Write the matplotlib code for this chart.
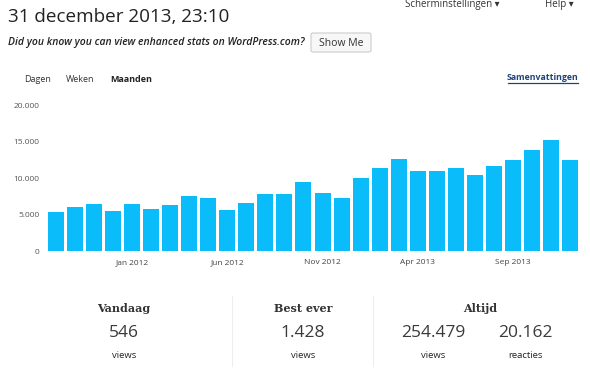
import numpy as np
import matplotlib.pyplot as plt
from matplotlib.lines import Line2D
from matplotlib.patches import FancyBboxPatch

# Monthly views, Sep 2011 .. Dec 2013
months = ['Sep 2011', 'Oct 2011', 'Nov 2011', 'Dec 2011',
          'Jan 2012', 'Feb 2012', 'Mar 2012', 'Apr 2012', 'May 2012', 'Jun 2012',
          'Jul 2012', 'Aug 2012', 'Sep 2012', 'Oct 2012', 'Nov 2012', 'Dec 2012',
          'Jan 2013', 'Feb 2013', 'Mar 2013', 'Apr 2013', 'May 2013', 'Jun 2013',
          'Jul 2013', 'Aug 2013', 'Sep 2013', 'Oct 2013', 'Nov 2013', 'Dec 2013']
views = [5400, 6000, 6400, 5500, 6400, 5800, 6300, 7500, 7300, 5700,
         6600, 7900, 7900, 9500, 8000, 7300, 10000, 11400, 12600, 11000,
         11000, 11400, 10500, 11700, 12500, 13900, 15200, 12500]
tick_labels = ['Jan 2012', 'Jun 2012', 'Nov 2012', 'Apr 2013', 'Sep 2013']
y_ticks = [0, 5000, 10000, 15000, 20000]
y_tick_labels = ['0', '5.000', '10.000', '15.000', '20.000']

# Summary numbers
summary_heads = ['Vandaag', 'Best ever', 'Altijd']
summary_vals = ['546', '1.428', '254.479', '20.162']
summary_units = ['views', 'views', 'views', 'reacties']

W, H = 590, 373
fig = plt.figure(figsize=(W/100.0, H/100.0), dpi=100)
fig.patch.set_facecolor('white')

def fx(px):
    return px/float(W)

def fy(py):
    return 1 - py/float(H)

sans = ['Open Sans', 'DejaVu Sans']

# Header texts
fig.text(fx(8), fy(17), '31 december 2013, 23:10', fontsize=13.6, family=sans,
         color='#222222', va='center', ha='left')
fig.text(fx(8), fy(42), 'Did you know you can view enhanced stats on WordPress.com?',
         fontsize=7.45, family=sans, style='italic', weight='semibold',
         color='#222222', va='center', ha='left')
btn = FancyBboxPatch((fx(311), fy(52)), fx(60), 19/float(H),
                     boxstyle='round,pad=0,rounding_size=0.004',
                     transform=fig.transFigure, facecolor='#f7f7f7',
                     edgecolor='#cccccc', linewidth=0.8)
fig.patches.append(btn)
fig.text(fx(341), fy(43), 'Show Me', fontsize=7.5, family=sans, color='#333333',
         va='center', ha='center')
fig.text(fx(405), fy(5), 'Scherminstellingen \u25be', fontsize=7, family=sans,
         color='#333333', va='center', ha='left')
fig.text(fx(545), fy(5), 'Help \u25be', fontsize=7, family=sans,
         color='#333333', va='center', ha='left')

# Tabs
fig.text(fx(24), fy(79), 'Dagen', fontsize=6.5, family=sans, color='#333333', va='center')
fig.text(fx(66), fy(79), 'Weken', fontsize=6.5, family=sans, color='#333333', va='center')
fig.text(fx(110), fy(79), 'Maanden', fontsize=6.5, family=sans, weight='bold',
         color='#222222', va='center')
fig.text(fx(578), fy(78), 'Samenvattingen', fontsize=6.3, family=sans, weight='bold',
         color='#21437a', va='center', ha='right')
fig.lines.append(Line2D([fx(508), fx(578)], [fy(83), fy(83)],
                        transform=fig.transFigure, color='#21437a', linewidth=0.9))

# Bar chart
ax = fig.add_axes([fx(48), fy(251), fx(578) - fx(48), (251 - 105.5)/float(H)])
x = np.arange(len(views))
ax.bar(x, views, width=0.84, color='#0bbcfa', edgecolor='none')
ax.set_xlim(-0.42, len(views) - 1 + 0.42)
ax.set_ylim(0, 20000)
for s in ax.spines.values():
    s.set_visible(False)
ax.set_yticks(y_ticks)
ax.set_yticklabels(y_tick_labels, fontsize=6, family=sans, color='#555555')
ax.set_xticks([months.index(m) for m in tick_labels])
ax.set_xticklabels(tick_labels, fontsize=6, family=sans, color='#444444')
ax.tick_params(axis='both', length=0)
ax.tick_params(axis='y', pad=6)
ax.tick_params(axis='x', pad=6)

# Summary section
serif = 'DejaVu Serif'
head_x = [124, 303, 480]
for hx, lab in zip(head_x, summary_heads):
    fig.text(fx(hx), fy(309), lab, fontsize=8, family=serif, weight='bold',
             color='#333333', ha='center', va='center')
val_x = [124, 303, 433, 525]
for vx, v, u in zip(val_x, summary_vals, summary_units):
    fig.text(fx(vx), fy(333), v, fontsize=12.5, family=sans,
             color='#3a3a3a', ha='center', va='center')
    fig.text(fx(vx), fy(356), u, fontsize=6.8, family=sans,
             color='#222222', ha='center', va='center')
for sx in [232, 373]:
    fig.lines.append(Line2D([fx(sx), fx(sx)], [fy(296), fy(366)],
                            transform=fig.transFigure, color='#eeeeee', linewidth=0.8))

plt.savefig('out.png', dpi=100, facecolor='white')
